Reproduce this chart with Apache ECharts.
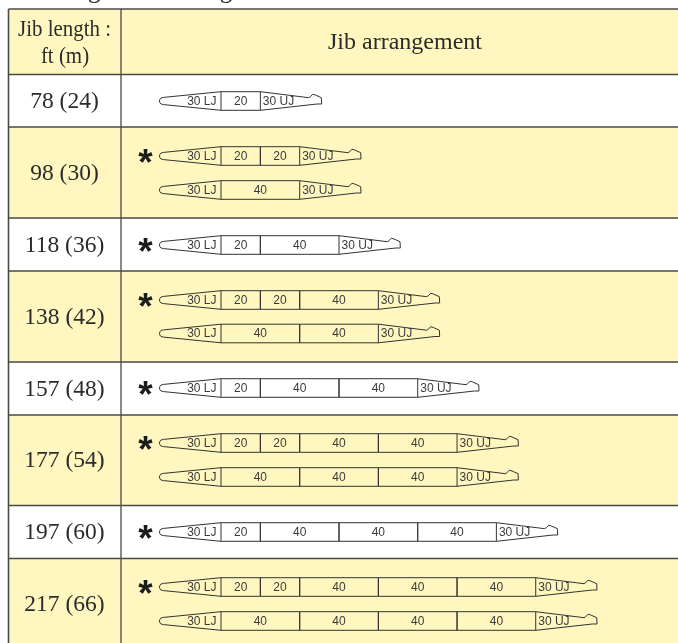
<!DOCTYPE html>
<html>
<head>
<meta charset="utf-8">
<title>Jib length and arrangement</title>
<script src="https://cdn.jsdelivr.net/npm/echarts@6/dist/echarts.min.js"></script>
<style>
html, body { margin: 0; padding: 0; background: #fff; }
#chart { width: 678px; height: 643px; }
</style>
</head>
<body>
<div id="chart"></div>
<script>
// table content
var titleText = 'Jib length and arrangement';
var headerLength = ['Jib length :', 'ft (m)'];
var headerArrangement = 'Jib arrangement';
var jibLengths = ['78 (24)', '98 (30)', '118 (36)', '138 (42)', '157 (48)', '177 (54)', '197 (60)', '217 (66)'];
// middle sections in ft for every arrangement of a row, between 30 LJ and 30 UJ
var arrangements = [
    [[20]],
    [[20, 20], [40]],
    [[20, 40]],
    [[20, 20, 40], [40, 40]],
    [[20, 40, 40]],
    [[20, 20, 40, 40], [40, 40, 40]],
    [[20, 40, 40, 40]],
    [[20, 20, 40, 40, 40], [40, 40, 40, 40]]
];
// the first arrangement of these rows has a star
var starredRows = [false, true, true, true, true, true, true, true];

// layout, in pixels. the last row runs past the bottom of the window
var tableLeft = 8.5, tableTop = 9, colSplit = 121, tableRight = 678, tableBottom = 649;
var headerBottom = 74.5;
var rowBottoms = [127, 218, 271, 362, 415, 505.5, 558.5, 649];
var jibRows = [[101], [156, 190], [245], [300, 333.5], [388], [443, 477], [532], [587, 621]];
var jibLeft = 159.5, pxPerFt = 1.967, tipFt = 31.27, halfH = 9.3;
var lineColor = '#4a4a45', jibColor = '#333', textColor = '#2b2b2b', yellow = '#fff7bf';
var serif = '"Liberation Serif", serif', sans = '"Liberation Sans", sans-serif';

// flat lists for the custom series
var sections = [];
var stars = [];
arrangements.forEach(function (rowArr, r) {
    rowArr.forEach(function (mids, i) {
        var y = jibRows[r][i];
        var ft = 0;
        sections.push([ft, tipFt, y, 'lj', '30 LJ']);
        ft += tipFt;
        mids.forEach(function (m) {
            sections.push([ft, m, y, 'mid', String(m)]);
            ft += m;
        });
        sections.push([ft, tipFt, y, 'uj', '30 UJ']);
        if (i === 0 && starredRows[r]) {
            stars.push([0, y]);
        }
    });
});

function renderTable(params, api) {
    var children = [];
    var line = function (x1, y1, x2, y2, w) {
        children.push({
            type: 'line',
            shape: { x1: x1, y1: y1, x2: x2, y2: y2 },
            style: { stroke: lineColor, lineWidth: w || 1.3 }
        });
    };
    var label = function (x, y, s, size, squeeze) {
        children.push({
            type: 'text',
            x: x,
            y: y,
            scaleX: squeeze || 1,
            style: {
                x: 0, y: 0, text: s, fill: textColor,
                font: size + 'px ' + serif, align: 'center', verticalAlign: 'middle'
            }
        });
    };
    // header + yellow rows first, lines on top
    children.push({
        type: 'rect',
        shape: { x: tableLeft, y: tableTop, width: tableRight - tableLeft, height: headerBottom - tableTop },
        style: { fill: yellow }
    });
    var prev = headerBottom;
    rowBottoms.forEach(function (b, r) {
        if (r % 2 === 1) {
            children.push({
                type: 'rect',
                shape: { x: tableLeft, y: prev, width: tableRight - tableLeft, height: b - prev },
                style: { fill: yellow }
            });
        }
        prev = b;
    });
    line(tableLeft, tableTop, tableRight, tableTop, 1.6);
    line(tableLeft, tableTop, tableLeft, tableBottom, 1.6);
    line(colSplit, tableTop, colSplit, tableBottom);
    line(tableLeft, headerBottom, tableRight, headerBottom);
    rowBottoms.slice(0, -1).forEach(function (b) {
        line(tableLeft, b, tableRight, b);
    });
    label(64.5, 30, headerLength[0], 23.5, 0.89);
    label(65, 57, headerLength[1], 23.5, 0.89);
    label(405, 43, headerArrangement, 24);
    prev = headerBottom;
    rowBottoms.forEach(function (b, r) {
        label(64.5, (prev + b) / 2 + 1, jibLengths[r], 23.5);
        prev = b;
    });
    children.push({
        type: 'text',
        style: { x: 22, y: 3.5, text: titleText, fill: textColor, font: '25px ' + serif, align: 'left', verticalAlign: 'bottom' }
    });
    return { type: 'group', children: children };
}

function renderSection(params, api) {
    var start = api.coord([api.value(0), api.value(2)]);
    var end = api.coord([api.value(0) + api.value(1), api.value(2)]);
    var kind = api.value(3);
    var text = api.value(4);
    var x0 = start[0], x1 = end[0], cy = start[1];
    var pts, tx, align;
    if (kind === 'lj') {
        pts = [[x1, cy - halfH], [x0 + 4, cy - 3.6], [x0 + 1.5, cy - 3], [x0 + 0.3, cy - 1.5], [x0, cy], [x0 + 0.3, cy + 1.5], [x0 + 1.5, cy + 3], [x0 + 4, cy + 3.6], [x1, cy + halfH]];
        tx = x1 - 4.5; align = 'right';
    } else if (kind === 'uj') {
        pts = [[x0, cy - halfH], [x0 + 48.3, cy - 3.3], [x0 + 50, cy - 4.3], [x0 + 52.3, cy - 6.8], [x0 + 55, cy - 6], [x0 + 61, cy - 3.3], [x0 + 61.3, cy + 3], [x0 + 56.7, cy + 3], [x0, cy + halfH]];
        tx = x0 + 2.5; align = 'left';
    } else {
        pts = [[x0, cy - halfH], [x1, cy - halfH], [x1, cy + halfH], [x0, cy + halfH], [x0, cy - halfH]];
        tx = (x0 + x1) / 2; align = 'center';
    }
    return {
        type: 'group',
        children: [{
            type: 'polyline',
            shape: { points: pts },
            style: { stroke: jibColor, lineWidth: 1, fill: null }
        }, {
            type: 'text',
            style: {
                x: tx, y: cy + 0.5, text: text, fill: '#3a3a3a',
                font: '12px ' + sans, align: align, verticalAlign: 'middle'
            }
        }]
    };
}

function renderStar(params, api) {
    var p = api.coord([api.value(0), api.value(1)]);
    return {
        type: 'text',
        style: {
            x: p[0] - 14, y: p[1] + 9, text: '*', fill: '#1c1c1c',
            font: 'bold 37px ' + sans, align: 'center', verticalAlign: 'middle'
        }
    };
}

var myChart = echarts.init(document.getElementById('chart'));
myChart.setOption({
    animation: false,
    grid: { left: jibLeft, right: 0, top: 0, bottom: 0 },
    xAxis: { type: 'value', min: 0, max: (678 - jibLeft) / pxPerFt, show: false },
    yAxis: { type: 'value', min: 0, max: 643, inverse: true, show: false },
    series: [
        { type: 'custom', coordinateSystem: 'none', silent: true, clip: false, data: [0], renderItem: renderTable, z: 1 },
        { type: 'custom', silent: true, clip: false, data: sections, renderItem: renderSection, z: 2 },
        { type: 'custom', silent: true, clip: false, data: stars, renderItem: renderStar, z: 3 }
    ]
});
</script>
</body>
</html>
